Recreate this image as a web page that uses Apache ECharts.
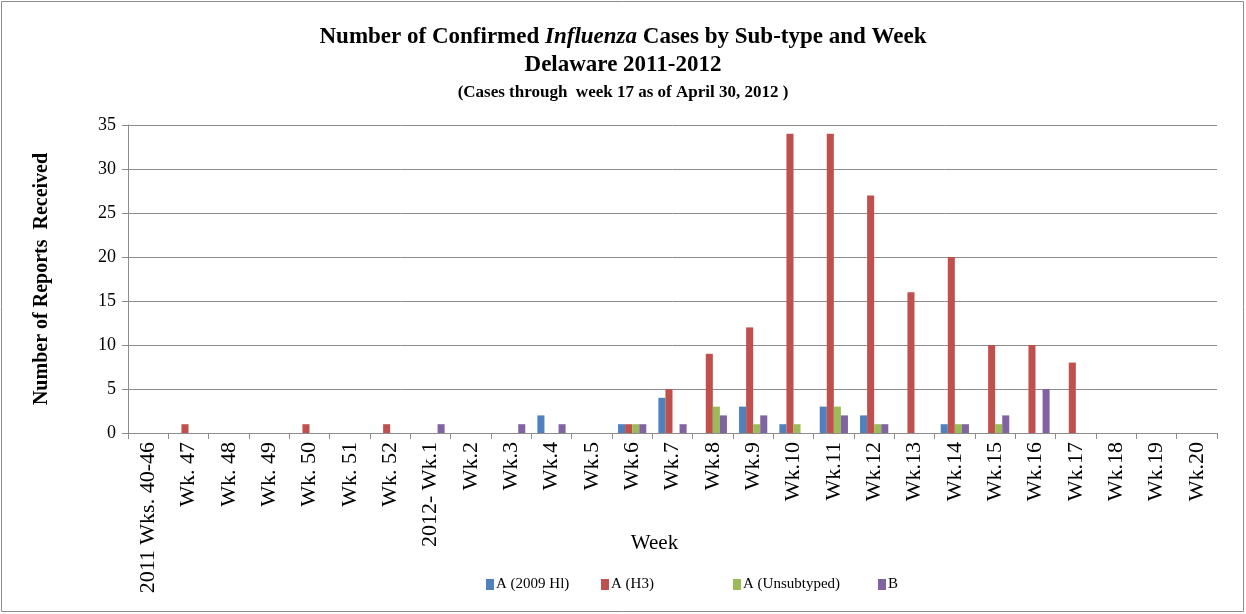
<!DOCTYPE html>
<html>
<head>
<meta charset="utf-8">
<script src="https://cdn.jsdelivr.net/npm/echarts@6/dist/echarts.min.js"></script>
<style>
  html, body { margin: 0; padding: 0; background: #fff; }
  #chart1 { width: 1246px; height: 614px; }
</style>
</head>
<body>
<div id="chart1"></div>
<script>
// 周次
var weeks = ['2011 Wks. 40-46', 'Wk. 47', 'Wk. 48', 'Wk. 49', 'Wk. 50', 'Wk. 51', 'Wk. 52',
  '2012- Wk.1', 'Wk.2', 'Wk.3', 'Wk.4', 'Wk.5', 'Wk.6', 'Wk.7', 'Wk.8', 'Wk.9', 'Wk.10',
  'Wk.11', 'Wk.12', 'Wk.13', 'Wk.14', 'Wk.15', 'Wk.16', 'Wk.17', 'Wk.18', 'Wk.19', 'Wk.20'];

var seriesNames = ['A (2009 Hl)', 'A (H3)', 'A (Unsubtyped)', 'B'];
var seriesColors = ['#4F81BD', '#C0504D', '#9BBB59', '#8064A2'];

var h1n1 =        [0, 0, 0, 0, 0, 0, 0, 0, 0, 0, 2, 0, 1, 4, 0, 3, 1, 3, 2, 0, 1, 0, 0, 0, 0, 0, 0];
var h3 =          [0, 1, 0, 0, 1, 0, 1, 0, 0, 0, 0, 0, 1, 5, 9, 12, 34, 34, 27, 16, 20, 10, 10, 8, 0, 0, 0];
var unsubtyped =  [0, 0, 0, 0, 0, 0, 0, 0, 0, 0, 0, 0, 1, 0, 3, 1, 1, 3, 1, 0, 1, 1, 0, 0, 0, 0, 0];
var typeB =       [0, 0, 0, 0, 0, 0, 0, 1, 0, 1, 1, 0, 1, 1, 2, 2, 0, 2, 1, 0, 1, 2, 5, 0, 0, 0, 0];

var yTicks = [0, 5, 10, 15, 20, 25, 30, 35];

var serif = '"Liberation Serif", "Times New Roman", serif';
var gray = '#8c8c8c';

var myChart = echarts.init(document.getElementById('chart1'));

var allData = [h1n1, h3, unsubtyped, typeB];
var legendLeft = [481, 596, 728, 873];

var legends = seriesNames.map(function (n, i) {
  return {
    data: [n],
    left: legendLeft[i],
    top: 572,
    icon: 'rect',
    itemWidth: 8,
    itemHeight: 11,
    itemGap: 0,
    selectedMode: false,
    textStyle: { fontFamily: serif, fontSize: 15, color: '#000', padding: [0, 0, 0, -3] }
  };
});

var series = seriesNames.map(function (n, i) {
  return {
    name: n,
    type: 'bar',
    data: allData[i],
    barGap: '0%',
    barCategoryGap: '30%',
    itemStyle: { color: seriesColors[i] }
  };
});

var option = {
  animation: false,
  backgroundColor: '#fff',
  textStyle: { fontFamily: serif },
  title: {
    left: 'center',
    top: 18,
    text: '{b|Number of Confirmed }{i|Influenza}{b| Cases by Sub-type and Week}\n{b|Delaware 2011-2012}\n{s|(Cases through  week 17 as of April 30, 2012 )}',
    textStyle: {
      rich: {
        b: { fontFamily: serif, fontSize: 23, fontWeight: 'bold', color: '#000', lineHeight: 28 },
        i: { fontFamily: serif, fontSize: 23, fontWeight: 'bold', fontStyle: 'italic', color: '#000', lineHeight: 28 },
        s: { fontFamily: serif, fontSize: 17, fontWeight: 'bold', color: '#000', lineHeight: 27 }
      }
    }
  },
  legend: legends,
  graphic: [{
    type: 'rect',
    shape: { x: 1.5, y: 1.5, width: 1242, height: 610 },
    style: { fill: null, stroke: gray, lineWidth: 1 }
  }],
  grid: { left: 128, right: 29, top: 125, bottom: 181, outerBoundsMode: 'none' },
  xAxis: {
    type: 'category',
    data: weeks,
    name: 'Week',
    nameLocation: 'middle',
    nameGap: 100,
    nameMoveOverlap: false,
    nameTextStyle: { fontFamily: serif, fontSize: 21, color: '#000', padding: [0, 36, 0, 0] },
    axisLine: { lineStyle: { color: gray } },
    axisTick: { show: true, interval: 0, length: 6, lineStyle: { color: gray } },
    axisLabel: { interval: 0, rotate: 90, fontFamily: serif, fontSize: 22, color: '#000', margin: 9 }
  },
  yAxis: {
    type: 'value',
    min: yTicks[0],
    max: yTicks[yTicks.length - 1],
    interval: yTicks[1] - yTicks[0],
    name: 'Number of Reports  Received',
    nameLocation: 'middle',
    nameGap: 76,
    nameMoveOverlap: false,
    nameTextStyle: { fontFamily: serif, fontSize: 20, fontWeight: 'bold', color: '#000' },
    axisLine: { show: true, lineStyle: { color: gray } },
    axisTick: { show: true, length: 6, lineStyle: { color: gray } },
    axisLabel: { fontFamily: serif, fontSize: 18, color: '#000', margin: 12 },
    splitLine: { lineStyle: { color: gray, width: 1 } }
  },
  series: series
};

myChart.setOption(option);
</script>
</body>
</html>
